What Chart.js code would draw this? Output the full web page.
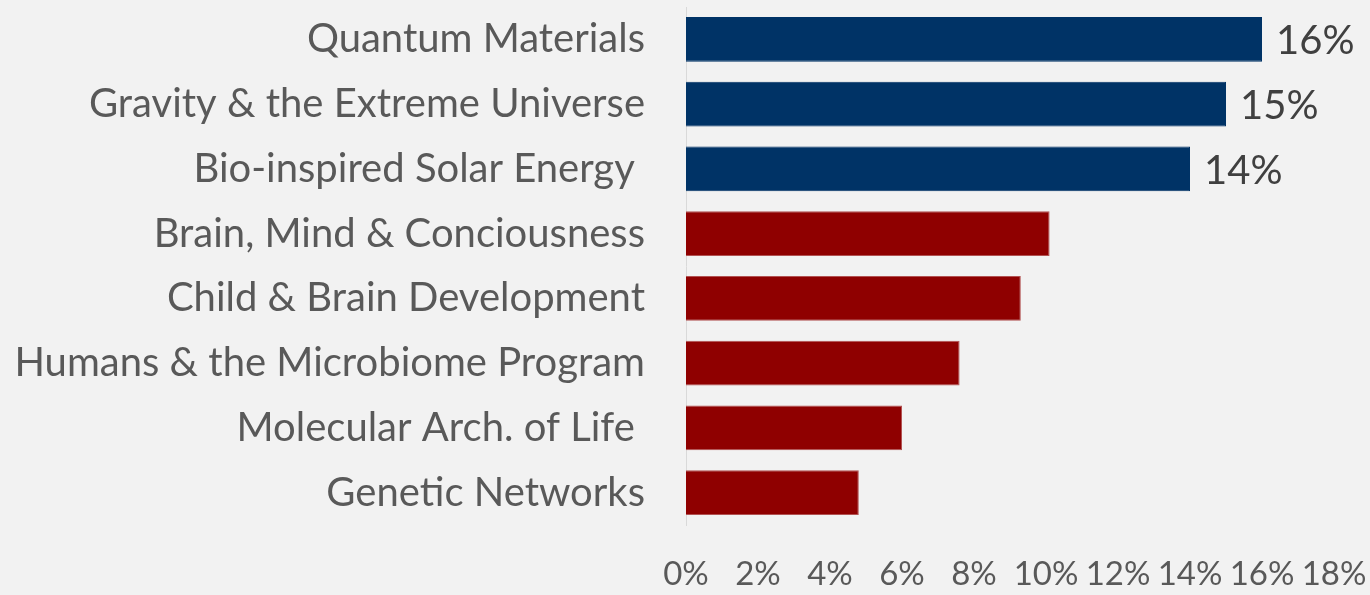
<!DOCTYPE html>
<html>
<head>
<meta charset="utf-8">
<script src="https://cdn.jsdelivr.net/npm/chart.js@4.4.1/dist/chart.umd.min.js"></script>
<style>
  html, body { margin: 0; padding: 0; background: #f2f2f2; }
  #wrap { width: 1370px; height: 595px; position: relative; }
</style>
</head>
<body>
<div id="wrap"><canvas id="c" width="1370" height="595"></canvas></div>
<script>
// Research programs and their share (%)
const programs = [
  'Quantum Materials',
  'Gravity & the Extreme Universe',
  'Bio-inspired Solar Energy ',
  'Brain, Mind & Conciousness',
  'Child & Brain Development',
  'Humans & the Microbiome Program',
  'Molecular Arch. of Life ',
  'Genetic Networks'
];
const shares = [16, 15, 14, 10.1, 9.3, 7.6, 6.0, 4.8];
// Programs whose value is printed beside the bar
const labelled = [true, true, true, false, false, false, false, false];
const barColors = ['#003366', '#003366', '#003366', '#8f0000', '#8f0000', '#8f0000', '#8f0000', '#8f0000'];
const edgeColors = ['#003366', '#003366', '#003366', '#b25252', '#b25252', '#b25252', '#b25252', '#b25252'];
const tickValues = [0, 2, 4, 6, 8, 10, 12, 14, 16, 18];

const FONT = 'Lato, "Open Sans", sans-serif';

const valueLabels = {
  id: 'valueLabels',
  afterDatasetsDraw(chart) {
    const ctx = chart.ctx;
    const meta = chart.getDatasetMeta(0);
    ctx.save();
    ctx.font = '40px ' + FONT;
    ctx.fillStyle = '#404040';
    ctx.textAlign = 'left';
    ctx.textBaseline = 'middle';
    meta.data.forEach((bar, i) => {
      if (!labelled[i]) return;
      ctx.fillText(shares[i] + '%', bar.x + 14, bar.y + 2);
    });
    ctx.restore();
  }
};

new Chart(document.getElementById('c'), {
  type: 'bar',
  data: {
    labels: programs,
    datasets: [{
      data: shares,
      backgroundColor: barColors,
      borderColor: edgeColors,
      borderWidth: 1,
      borderSkipped: 'start',
      categoryPercentage: 1,
      barPercentage: 0.69
    }]
  },
  options: {
    indexAxis: 'y',
    responsive: false,
    animation: false,
    layout: { padding: { top: 7, right: 36, bottom: 0, left: 0 } },
    plugins: { legend: { display: false }, tooltip: { enabled: false } },
    scales: {
      x: {
        min: 0, max: 18,
        afterBuildTicks(scale) { scale.ticks = tickValues.map(v => ({ value: v })); },
        afterFit(scale) {
          scale.height = 70;
          scale.paddingLeft = 0;
          scale.paddingRight = 0;
        },
        grid: { display: false, drawTicks: false },
        border: { display: false },
        ticks: {
          padding: 30,
          color: '#595959',
          font: { family: FONT, size: 33 },
          maxRotation: 0,
          autoSkip: false,
          callback: v => v + '%'
        }
      },
      y: {
        afterFit(scale) {
          scale.width = 686;
          scale.paddingTop = 0;
          scale.paddingBottom = 0;
        },
        grid: { display: false, drawTicks: false },
        border: { display: true, color: '#d9d9d9', width: 1 },
        ticks: {
          padding: 41,
          color: '#595959',
          font: { family: FONT, size: 40 },
          autoSkip: false
        }
      }
    }
  },
  plugins: [valueLabels]
});
</script>
</body>
</html>
